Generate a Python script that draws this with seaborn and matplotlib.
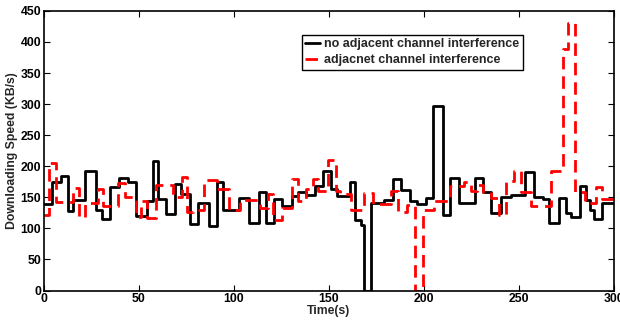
import matplotlib
matplotlib.use("Agg")
import matplotlib.pyplot as plt
import seaborn as sns

# step start times (s) and download speed (KB/s)
time_no_aci = [0, 4, 9, 12.5, 15, 21.5, 27.5, 30.5, 34.5, 39.5,
               44, 48.5, 54, 57.5, 60, 64, 69, 72, 77, 81,
               87, 91, 94, 102.5, 108, 113, 117, 121, 125.5, 130.5,
               133.5, 138, 142.5, 147, 151, 154.5, 161, 163.5, 167, 168.5,
               172, 179, 184, 188, 192.5, 196.5, 201, 205, 210, 213.5,
               218.5, 227, 231, 235.5, 240.5, 246, 253, 258, 262.5, 266,
               271, 275, 277.5, 282, 285.5, 287.7, 289.5, 294, 300]
speed_no_aci = [140, 175, 185, 128, 145, 192, 130, 115, 167, 181,
                175, 120, 144, 208, 147, 123, 172, 155, 107, 141,
                104, 175, 129, 149, 108, 159, 108, 148, 136, 152,
                159, 154, 169, 192, 163, 152, 174, 114, 105, 0,
                141, 146, 179, 162, 144, 139, 149, 297, 122, 181,
                141, 181, 159, 125, 151, 153, 191, 151, 147, 108,
                149, 125, 119, 169, 145, 130, 115, 141, 141]

time_aci = [0, 2.5, 6.5, 15, 18.5, 21.5, 28.5, 31, 39, 42.5,
            48.5, 51, 54, 59, 68, 72.5, 75.5, 78.5, 84, 91,
            97.5, 103, 113.5, 118, 120.5, 125.5, 130.5, 133.5, 138, 141.5,
            144, 149.5, 153.5, 156, 161.5, 168.5, 173, 182.5, 186.5, 191,
            195.5, 199.5, 205.5, 213.5, 221, 225, 228, 231, 235.5, 239.5,
            243.5, 247.5, 251, 256.5, 267, 273, 276, 279.5, 285, 290.5,
            294, 300]
speed_aci = [122, 205, 143, 165, 119, 141, 163, 136, 173, 150,
             119, 144, 116, 170, 150, 182, 127, 130, 178, 163,
             130, 145, 133, 155, 114, 133, 180, 144, 163, 180,
             160, 210, 160, 156, 130, 157, 139, 160, 127, 138,
             0, 130, 144, 169, 174, 160, 170, 158, 149, 122,
             177, 192, 158, 136, 193, 388, 430, 158, 141, 167,
             148, 148]

x_ticks = [0, 50, 100, 150, 200, 250, 300]
y_ticks = [0, 50, 100, 150, 200, 250, 300, 350, 400, 450]

sns.set_style("ticks")
plt.rcParams['font.family'] = ['Liberation Sans', 'DejaVu Sans']
plt.rcParams['font.weight'] = 'bold'

fig = plt.figure(figsize=(6.2, 3.2), dpi=100)
ax = fig.add_axes([0.071, 0.092, 0.919, 0.874])

sns.lineplot(x=time_no_aci, y=speed_no_aci, ax=ax, color='black', linewidth=2,
             drawstyle='steps-post', label='no adjacent channel interference')
sns.lineplot(x=time_aci, y=speed_aci, ax=ax, color='#ff0000', linewidth=2,
             drawstyle='steps-post', linestyle=(0, (4.5, 2.5)),
             label='adjacnet channel interference')

ax.set_xlim(0, 300)
ax.set_ylim(0, 450)
ax.set_xticks(x_ticks)
ax.set_yticks(y_ticks)
ax.tick_params(direction='in', top=True, right=True, length=4, width=0.8,
               labelsize=8.8, pad=2, colors='black')
for lbl in ax.get_xticklabels() + ax.get_yticklabels():
    lbl.set_fontweight('bold')
for s in ax.spines.values():
    s.set_visible(True)
    s.set_linewidth(1.2)
    s.set_color('black')

ax.set_xlabel('Time(s)', fontsize=8.8, fontweight='bold', labelpad=0)
ax.set_ylabel('Downloading Speed (KB/s)', fontsize=8.8, fontweight='bold', labelpad=2)

leg = ax.legend(loc='upper left', bbox_to_anchor=(0.452, 0.915), fontsize=9,
                handlelength=1.2, handletextpad=0.3, borderpad=0.3,
                labelspacing=0.3, fancybox=False, framealpha=1,
                borderaxespad=0)
leg.get_frame().set_edgecolor('black')
leg.get_frame().set_linewidth(1)
for t in leg.get_texts():
    t.set_fontweight('bold')

fig.savefig('out.png', dpi=100)
